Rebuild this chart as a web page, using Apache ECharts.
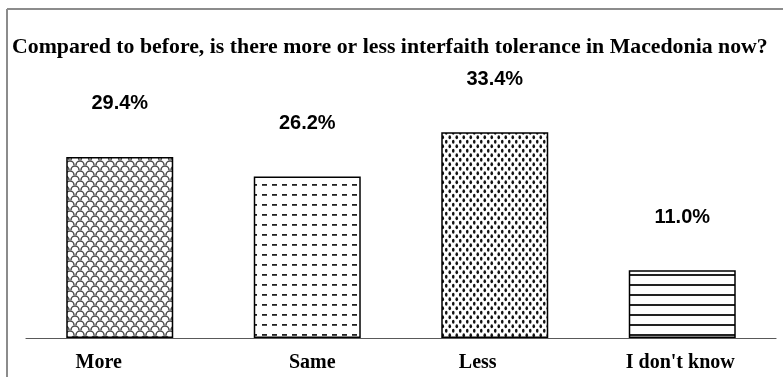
<!DOCTYPE html>
<html>
<head>
<meta charset="utf-8">
<script src="https://cdn.jsdelivr.net/npm/echarts@6/dist/echarts.min.js"></script>
<style>
  html, body { margin: 0; padding: 0; background: #fff; }
  #chart { width: 783px; height: 377px; }
</style>
</head>
<body>
<div id="chart"></div>
<script>
// Survey answers and their shares (%)
const categories = ['More', 'Same', 'Less', "I don't know"];
const shares = [29.4, 26.2, 33.4, 11.0];
const valueLabels = ['29.4%', '26.2%', '33.4%', '11.0%'];
const chartTitle = 'Compared to before, is there more or less interfaith tolerance in Macedonia now?';

// Small repeating tiles used as black-and-white bar fills
function tile(w, h, draw) {
  const c = document.createElement('canvas');
  c.width = w; c.height = h;
  const g = c.getContext('2d');
  g.fillStyle = '#fff';
  g.fillRect(0, 0, w, h);
  draw(g);
  return c;
}
const scaleTile = tile(10, 10, g => {
  g.strokeStyle = '#4a4a4a';
  g.lineWidth = 1.5;
  [[0, 5], [10, 5], [5, 10], [5, 0]].forEach(([x, y]) => {
    g.beginPath();
    g.arc(x, y, 4, Math.PI, 2 * Math.PI);
    g.stroke();
  });
});
const dashTile = tile(10, 10, g => {
  g.fillStyle = '#222';
  g.fillRect(2, 4, 5, 1.8);
});
const dotTile = tile(7, 9, g => {
  g.fillStyle = '#111';
  [[1.75, 2.25], [5.25, 6.75]].forEach(([x, y]) => {
    g.beginPath();
    g.ellipse(x, y, 1.3, 2.1, 0, 0, 2 * Math.PI);
    g.fill();
  });
});
const lineTile = tile(10, 10, g => {
  g.fillStyle = '#222';
  g.fillRect(0, 4, 10, 2);
});
const fills = [scaleTile, dashTile, dotTile, lineTile];

const catFont = { fontFamily: 'Liberation Serif', fontWeight: 'bold', fontSize: 20, color: '#000' };

const chart = echarts.init(document.getElementById('chart'), null, { renderer: 'canvas' });

chart.setOption({
  backgroundColor: '#fff',
  animation: false,
  title: {
    text: chartTitle,
    left: 7,
    top: 31,
    textStyle: {
      fontFamily: 'Liberation Serif',
      fontWeight: 'bold',
      fontSize: 21.8,
      color: '#000'
    }
  },
  graphic: [
    { type: 'line', shape: { x1: 7, y1: 9, x2: 783, y2: 9 }, style: { stroke: '#8c8c8c', lineWidth: 2 } },
    { type: 'line', shape: { x1: 7, y1: 9, x2: 7, y2: 377 }, style: { stroke: '#8c8c8c', lineWidth: 2 } }
  ],
  grid: { left: 26, right: 7, top: 91.6, bottom: 39 },
  xAxis: {
    type: 'category',
    data: categories,
    axisLine: { lineStyle: { color: '#595959', width: 1.2 } },
    axisTick: { show: false },
    axisLabel: Object.assign({
      interval: 0,
      hideOverlap: false,
      margin: 15,
      formatter: (v, i) => '{c' + i + '|' + v + '}',
      rich: {
        c0: Object.assign({ padding: [0, 42, 0, 0] }, catFont),
        c1: Object.assign({ padding: [0, 0, 0, 10] }, catFont),
        c2: Object.assign({ padding: [0, 34, 0, 0] }, catFont),
        c3: Object.assign({ padding: [0, 4, 0, 0] }, catFont)
      }
    }, catFont)
  },
  yAxis: {
    type: 'value',
    min: 0,
    max: 40,
    show: false,
    splitLine: { show: false }
  },
  series: [{
    type: 'bar',
    barWidth: 107,
    data: shares.map((v, i) => ({
      value: v,
      itemStyle: { color: { image: fills[i], repeat: 'repeat' } }
    })),
    itemStyle: { borderColor: '#000', borderWidth: 1.5 },
    label: {
      show: true,
      position: 'top',
      distance: 43,
      formatter: p => valueLabels[p.dataIndex],
      fontFamily: 'Liberation Sans',
      fontWeight: 'bold',
      fontSize: 20,
      color: '#000'
    }
  }]
});
</script>
</body>
</html>
